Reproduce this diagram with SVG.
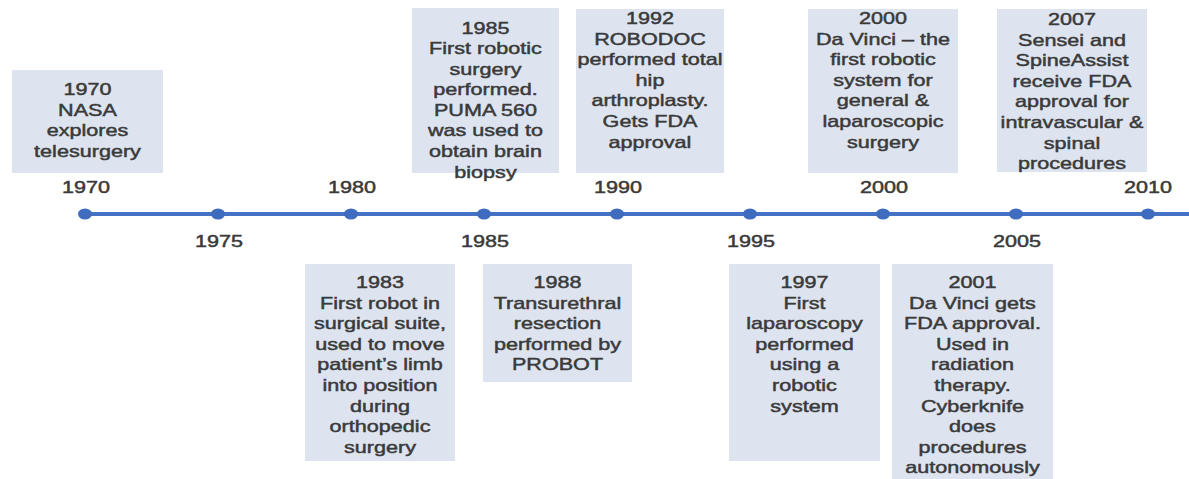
<svg xmlns="http://www.w3.org/2000/svg" width="1189" height="479" viewBox="0 0 1189 479">
<style>
.box{fill:#dde4f0;}
.t{font-family:"Liberation Sans",Arial,sans-serif;font-size:16px;fill:#3a3a3a;stroke:#3a3a3a;stroke-width:0.45;text-anchor:middle;}
.axis{stroke:#4472c4;stroke-width:4;fill:none;}
.dot{fill:#3f6cbf;}
</style>
<rect width="1189" height="479" fill="#ffffff"/>
<g id="connectors">
<line class="axis" x1="85" y1="214" x2="1189" y2="214"/>
<ellipse class="dot" cx="85" cy="214" rx="7" ry="5.5"/>
<ellipse class="dot" cx="218" cy="214" rx="7" ry="5.5"/>
<ellipse class="dot" cx="351" cy="214" rx="7" ry="5.5"/>
<ellipse class="dot" cx="484" cy="214" rx="7" ry="5.5"/>
<ellipse class="dot" cx="617" cy="214" rx="7" ry="5.5"/>
<ellipse class="dot" cx="750" cy="214" rx="7" ry="5.5"/>
<ellipse class="dot" cx="883" cy="214" rx="7" ry="5.5"/>
<ellipse class="dot" cx="1016" cy="214" rx="7" ry="5.5"/>
<ellipse class="dot" cx="1148" cy="214" rx="7" ry="5.5"/>
</g>
<g id="ticks">
<text class="t" transform="translate(86,193) scale(1.35,1)">1970</text>
<text class="t" transform="translate(219,247) scale(1.35,1)">1975</text>
<text class="t" transform="translate(352,193) scale(1.35,1)">1980</text>
<text class="t" transform="translate(485,247) scale(1.35,1)">1985</text>
<text class="t" transform="translate(618,193) scale(1.35,1)">1990</text>
<text class="t" transform="translate(751,247) scale(1.35,1)">1995</text>
<text class="t" transform="translate(884,193) scale(1.35,1)">2000</text>
<text class="t" transform="translate(1017,247) scale(1.35,1)">2005</text>
<text class="t" transform="translate(1148,193) scale(1.35,1)">2010</text>
</g>
<g id="e1970">
<rect class="box" x="12" y="70" width="151" height="103"/>
<text class="t" transform="translate(87.5,95) scale(1.35,1)"><tspan x="0" y="0">1970</tspan><tspan x="0" dy="20.6">NASA</tspan><tspan x="0" dy="20.6">explores</tspan><tspan x="0" dy="20.6">telesurgery</tspan></text>
</g>
<g id="e1985">
<rect class="box" x="412" y="8" width="147" height="165"/>
<text class="t" transform="translate(485.5,33.5) scale(1.35,1)"><tspan x="0" y="0">1985</tspan><tspan x="0" dy="20.6">First robotic</tspan><tspan x="0" dy="20.6">surgery</tspan><tspan x="0" dy="20.6">performed.</tspan><tspan x="0" dy="20.6">PUMA 560</tspan><tspan x="0" dy="20.6">was used to</tspan><tspan x="0" dy="20.6">obtain brain</tspan><tspan x="0" dy="20.6">biopsy</tspan></text>
</g>
<g id="e1992">
<rect class="box" x="576" y="9" width="148" height="164"/>
<text class="t" transform="translate(650,24) scale(1.35,1)"><tspan x="0" y="0">1992</tspan><tspan x="0" dy="20.6">ROBODOC</tspan><tspan x="0" dy="20.6">performed total</tspan><tspan x="0" dy="20.6">hip</tspan><tspan x="0" dy="20.6">arthroplasty.</tspan><tspan x="0" dy="20.6">Gets FDA</tspan><tspan x="0" dy="20.6">approval</tspan></text>
</g>
<g id="e2000">
<rect class="box" x="808" y="9" width="150" height="164"/>
<text class="t" transform="translate(883,24) scale(1.35,1)"><tspan x="0" y="0">2000</tspan><tspan x="0" dy="20.6">Da Vinci – the</tspan><tspan x="0" dy="20.6">first robotic</tspan><tspan x="0" dy="20.6">system for</tspan><tspan x="0" dy="20.6">general &amp;</tspan><tspan x="0" dy="20.6">laparoscopic</tspan><tspan x="0" dy="20.6">surgery</tspan></text>
</g>
<g id="e2007">
<rect class="box" x="997" y="9" width="150" height="163"/>
<text class="t" transform="translate(1072,25) scale(1.35,1)"><tspan x="0" y="0">2007</tspan><tspan x="0" dy="20.6">Sensei and</tspan><tspan x="0" dy="20.6">SpineAssist</tspan><tspan x="0" dy="20.6">receive FDA</tspan><tspan x="0" dy="20.6">approval for</tspan><tspan x="0" dy="20.6">intravascular &amp;</tspan><tspan x="0" dy="20.6">spinal</tspan><tspan x="0" dy="20.6">procedures</tspan></text>
</g>
<g id="e1983">
<rect class="box" x="305" y="264" width="150" height="197"/>
<text class="t" transform="translate(380,288) scale(1.35,1)"><tspan x="0" y="0">1983</tspan><tspan x="0" dy="20.6">First robot in</tspan><tspan x="0" dy="20.6">surgical suite,</tspan><tspan x="0" dy="20.6">used to move</tspan><tspan x="0" dy="20.6">patient’s limb</tspan><tspan x="0" dy="20.6">into position</tspan><tspan x="0" dy="20.6">during</tspan><tspan x="0" dy="20.6">orthopedic</tspan><tspan x="0" dy="20.6">surgery</tspan></text>
</g>
<g id="e1988">
<rect class="box" x="483" y="264" width="149" height="118"/>
<text class="t" transform="translate(557.5,288) scale(1.35,1)"><tspan x="0" y="0">1988</tspan><tspan x="0" dy="20.6">Transurethral</tspan><tspan x="0" dy="20.6">resection</tspan><tspan x="0" dy="20.6">performed by</tspan><tspan x="0" dy="20.6">PROBOT</tspan></text>
</g>
<g id="e1997">
<rect class="box" x="729" y="264" width="151" height="197"/>
<text class="t" transform="translate(804.5,288) scale(1.35,1)"><tspan x="0" y="0">1997</tspan><tspan x="0" dy="20.6">First</tspan><tspan x="0" dy="20.6">laparoscopy</tspan><tspan x="0" dy="20.6">performed</tspan><tspan x="0" dy="20.6">using a</tspan><tspan x="0" dy="20.6">robotic</tspan><tspan x="0" dy="20.6">system</tspan></text>
</g>
<g id="e2001">
<rect class="box" x="892" y="264" width="161" height="215"/>
<text class="t" transform="translate(972.5,288) scale(1.35,1)"><tspan x="0" y="0">2001</tspan><tspan x="0" dy="20.6">Da Vinci gets</tspan><tspan x="0" dy="20.6">FDA approval.</tspan><tspan x="0" dy="20.6">Used in</tspan><tspan x="0" dy="20.6">radiation</tspan><tspan x="0" dy="20.6">therapy.</tspan><tspan x="0" dy="20.6">Cyberknife</tspan><tspan x="0" dy="20.6">does</tspan><tspan x="0" dy="20.6">procedures</tspan><tspan x="0" dy="20.6">autonomously</tspan></text>
</g>
</svg>
